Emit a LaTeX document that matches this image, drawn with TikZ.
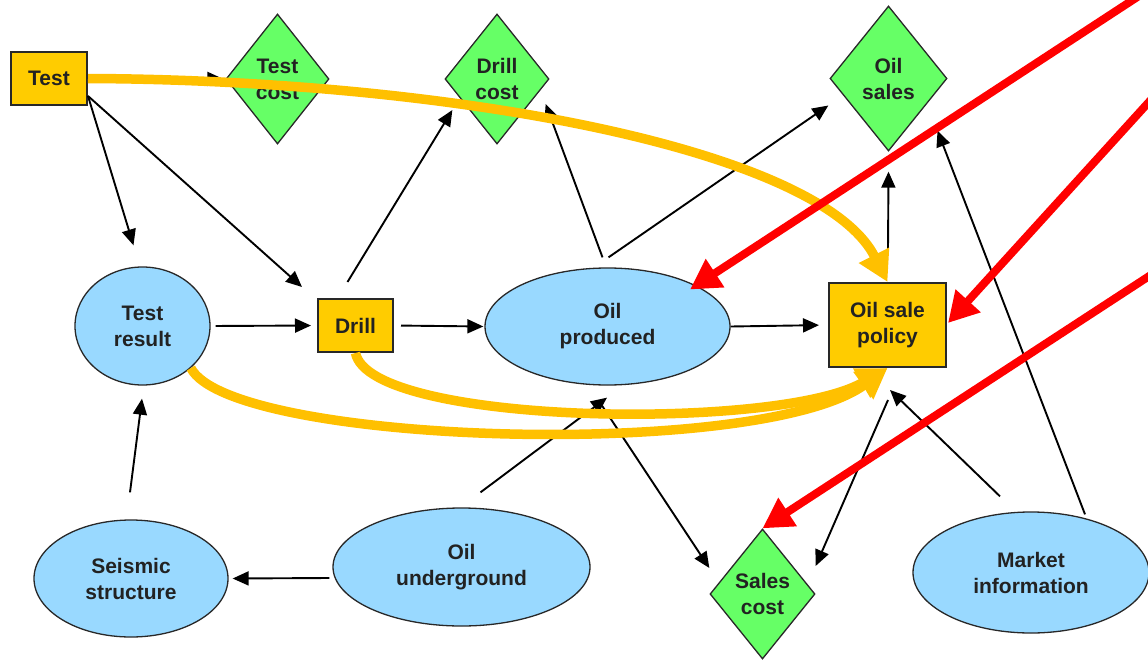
\documentclass[tikz,border=0pt]{standalone}
\usepackage{fontspec}
\setmainfont{Liberation Sans}
\usetikzlibrary{shapes.geometric,arrows.meta,calc}

\definecolor{boxyellow}{RGB}{255,204,0}
\definecolor{flowgold}{RGB}{255,192,0}
\definecolor{chancefill}{RGB}{153,217,255}
\definecolor{valuefill}{RGB}{102,255,102}
\definecolor{inktext}{RGB}{34,34,34}
\definecolor{edgegray}{RGB}{40,40,40}

\begin{document}
\begin{tikzpicture}[x=1pt,y=-1pt,
  every node/.style={font=\fontsize{21}{26}\selectfont\bfseries, text=inktext,
    align=center, inner sep=0pt, draw=edgegray, line width=1.3pt},
  decision/.style={rectangle, fill=boxyellow, line width=2pt},
  chance/.style={ellipse, fill=chancefill},
  value/.style={diamond, fill=valuefill},
  link/.style={draw=black, line width=1.9pt, -{Triangle[length=16pt,width=14pt]}},
  infoflow/.style={draw=flowgold, line width=9.5pt, -{Triangle[length=30pt,width=32pt]}},
  redflow/.style={draw=red, line width=8pt, -{Triangle[length=30pt,width=32pt]}},
]
% canvas
\path[use as bounding box, fill=white] (0,0) rectangle (1148,661);

% decisions, chance variables and values
\node[decision, minimum width=76pt, minimum height=53pt] (test) at (49,78.5) {Test};
\node[value, minimum width=103pt, minimum height=130pt] (tcost) at (277.5,79) {Test\\cost};
\node[value, minimum width=104pt, minimum height=130pt] (dcost) at (497,79) {Drill\\cost};
\node[value, minimum width=117pt, minimum height=145pt] (osales) at (888.5,78.5) {Oil\\sales};
\node[chance, minimum width=135pt, minimum height=118pt] (tres) at (142.5,326) {Test\\result};
\node[decision, minimum width=75pt, minimum height=53pt] (drill) at (355.5,325.5) {Drill};
\node[chance, minimum width=245pt, minimum height=117pt] (oilp) at (607.5,326.5) {Oil\\produced};
\node[decision, minimum width=117pt, minimum height=84pt] (policy) at (887.5,325) {Oil sale\\policy};
\node[chance, minimum width=194pt, minimum height=117pt] (seis) at (131,578.5) {Seismic\\structure};
\node[chance, minimum width=257pt, minimum height=118pt] (oilu) at (461.5,567) {Oil\\underground};
\node[value, minimum width=105pt, minimum height=130pt] (scost) at (762.5,594) {Sales\\cost};
\node[chance, minimum width=236pt, minimum height=121pt] (market) at (1031,572.5) {Market\\information};

% influence arcs
\draw[link, shorten >=2pt] (test.east) -- (tcost.west);
\draw[link] ($(test.south east)+(0,-10)$) -- ($(tres.north)+(-9,-21)$);
\draw[link] ($(test.south east)+(0,-10)$) -- ($(drill.north west)+(-15,-11)$);
\draw[link, shorten <=5pt, shorten >=6pt] (tres.east) -- (drill.west);
\draw[link, shorten <=7pt, shorten >=1pt] (drill.east) -- (oilp.west);
\draw[link] ($(drill.north)+(-8,-16)$) -- ($(dcost.west)+(8,31)$);
\draw[link] ($(oilp.north)+(-5,-10)$) -- ($(dcost.east)+(-4,25)$);
\draw[link] ($(oilp.north)+(1,-10)$) -- ($(osales.west)+(-1,27)$);
\draw[link, shorten >=9pt] (oilp.east) -- (policy.west);
\draw[link] ($(policy.north)+(0.5,-33)$) -- ($(osales.south)+(0,20)$);
\draw[link] ($(market.north)+(54,3)$) -- ($(osales.south)+(49,-21)$);
\draw[link] ($(market.north)+(-31,-15)$) -- ($(policy.south)+(2.5,22)$);
\draw[link] ($(policy.south)+(0.5,32)$) -- ($(scost.east)+(0,-28)$);
\draw[link] ($(oilp.south)+(-5.5,20)$) -- ($(scost.west)+(0,-26)$);
\draw[link] ($(oilu.north)+(19,-15)$) -- ($(oilp.south)+(-0.5,12)$);
\draw[link] ($(oilu.west)+(-3,11)$) -- ($(seis.east)+(4,0)$);
\draw[link] ($(seis.north)+(-1,-27)$) -- ($(tres.south)+(-0.5,13)$);

% information available to the sale policy
\draw[infoflow] (test.east) .. controls +(363,1.5) and +(-67.5,-133) .. (policy.north);
\draw[infoflow] (drill.south) .. controls +(14.5,73) and +(-107.5,63) .. (policy.south);
\draw[infoflow] (tres.-41.5) .. controls +(40,77) and +(-127.5,93) .. (policy.south);

% incoming red arrows
\coordinate (r1) at (1145,-8);
\coordinate (r2) at (1158,92);
\coordinate (r3) at (1160,269);
\draw[redflow] (r1) -- ($(oilp.center)+(82.5,-37)$);
\draw[redflow] (r2) -- ($(policy.east)+(1,-2)$);
\draw[redflow] (r3) -- (scost.north);
\end{tikzpicture}
\end{document}
